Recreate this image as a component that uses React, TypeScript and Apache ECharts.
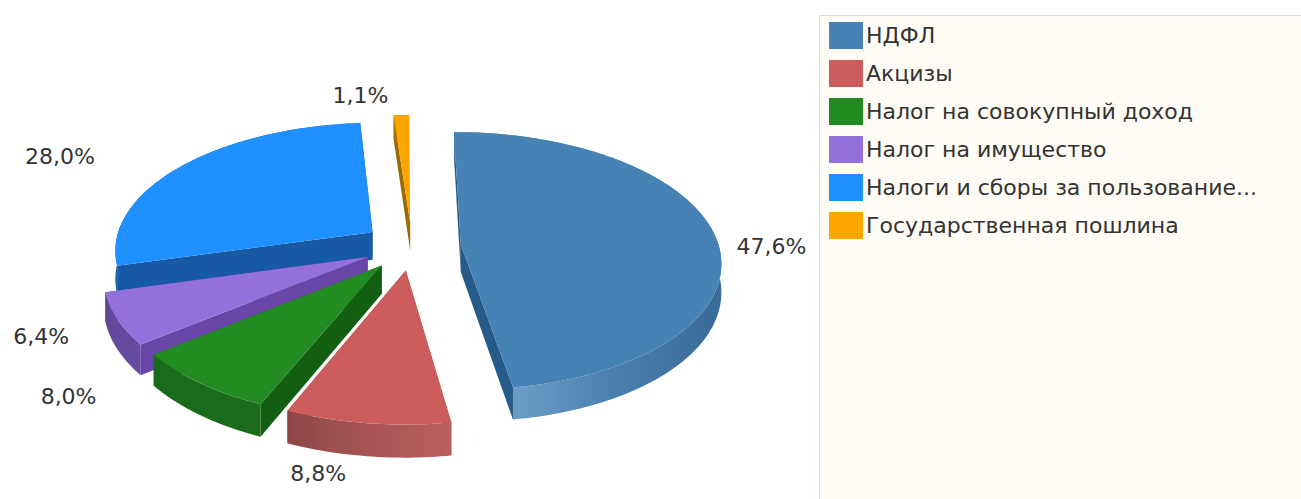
import React, { useEffect, useRef } from "react";
import * as echarts from "echarts";

const categories = ["НДФЛ", "Акцизы", "Налог на совокупный доход", "Налог на имущество", "Налоги и сборы за пользование...", "Государственная пошлина"];
const shares = [47.6, 8.8, 8.0, 6.4, 28.0, 1.1];
const faceColors = ["#4682B4", "#CD5C5C", "#228B22", "#9370DB", "#1E90FF", "#FFA500"];
const innerWallColors = ["#265a88", "#8f4646", "#125f12", "#6a45a8", "#1859a6", "#9a6a08"];
const outerWallStops = [
  ["#4f82b0", "#6a9bc6", "#4a7fae", "#3a6a96"],
  ["#8c4545", "#9c4f4f", "#ab5656", "#bb6060"],
  ["#1c6b1c", "#1c6b1c", "#1c6b1c", "#1c6b1c"],
  ["#5f4495", "#644a9c", "#644a9c", "#6a4aa5"],
  ["#175da8", "#175da8", "#175da8", "#175da8"],
  ["#a87408", "#a87408", "#a87408", "#a87408"],
];
const labelOffsets = [[57, 12], [-49, 50], [-131, 14], [-76, 18], [-122, -9], [-41, -20]];
const paintOrder = [6, 5, 4, 3, 2, 1];

const START_DEG = -0.3;
const CX = 412, CY = 246, RX = 258, RY = 127, PERSP = 0.13, EXPLODE = 0.19, WALL = 28;
const total = shares.reduce((a, b) => a + b, 0);
const FONT = "DejaVu Sans";

function project(u: number, v: number, h = 0): number[] {
  const d = 1 - PERSP * v;
  return [CX + (RX * u) / d, CY + (RY * v + h) / d];
}

function renderSlice(index: number) {
  return (_params: any, api: any) => {
    const value = api.value(0);
    let before = 0;
    for (let i = 0; i < index; i++) before += shares[i];
    const a0 = START_DEG + (before / total) * 360;
    const a1 = a0 + (value / total) * 360;
    const rad = (d: number) => (d * Math.PI) / 180;
    const mid = rad((a0 + a1) / 2);
    const ax = EXPLODE * Math.sin(mid);
    const ay = -EXPLODE * Math.cos(mid);
    const steps = Math.max(4, Math.ceil(a1 - a0));
    const top: number[][] = [];
    const bottom: number[][] = [];
    for (let s = 0; s <= steps; s++) {
      const t = rad(a0 + ((a1 - a0) * s) / steps);
      const u = ax + Math.sin(t);
      const v = ay - Math.cos(t);
      top.push(project(u, v));
      bottom.push(project(u, v, WALL));
    }
    const apex = project(ax, ay);
    const apexLow = project(ax, ay, WALL);
    const inner = innerWallColors[index];
    const stops = outerWallStops[index];
    const outerMid = project(ax + Math.sin(mid), ay - Math.cos(mid));
    const off = labelOffsets[index];
    return {
      type: "group",
      children: [
        { type: "polygon", shape: { points: [apex, top[0], bottom[0], apexLow] }, style: { fill: inner } },
        { type: "polygon", shape: { points: [apex, top[steps], bottom[steps], apexLow] }, style: { fill: inner } },
        {
          type: "polygon",
          shape: { points: [...top, ...bottom.slice().reverse()] },
          style: {
            fill: new echarts.graphic.LinearGradient(0, 0, 1, 0, [
              { offset: 0, color: stops[0] },
              { offset: 0.25, color: stops[1] },
              { offset: 0.6, color: stops[2] },
              { offset: 1, color: stops[3] },
            ]),
          },
        },
        { type: "polygon", shape: { points: [apex, ...top] }, style: { fill: faceColors[index] } },
        {
          type: "text",
          x: outerMid[0] + off[0],
          y: outerMid[1] + off[1],
          style: {
            text: value.toFixed(1).replace(".", ",") + "%",
            fill: "#333333",
            font: `22px "${FONT}"`,
            textAlign: "center",
            textVerticalAlign: "middle",
          },
        },
      ],
    };
  };
}

export default function App() {
  const ref = useRef<HTMLDivElement>(null);
  useEffect(() => {
    document.body.style.margin = "0";
    const chart = echarts.init(ref.current as HTMLDivElement, undefined, { renderer: "svg" });
    chart.setOption({
      animation: false,
      backgroundColor: "#ffffff",
      graphic: [
        {
          type: "rect",
          z: -1,
          shape: { x: 819.5, y: 15.5, width: 490, height: 500 },
          style: { fill: "#FFFCF6", stroke: "#dddddd", lineWidth: 1 },
        },
      ],
      legend: {
        data: categories,
        orient: "vertical",
        left: 829,
        top: 22,
        padding: 0,
        icon: "rect",
        itemWidth: 34,
        itemHeight: 27,
        itemGap: 11,
        selectedMode: false,
        textStyle: { fontFamily: FONT, fontSize: 22, color: "#333333", padding: [0, 0, 0, -2] },
      },
      series: categories.map((name, i) => ({
        type: "custom",
        name,
        coordinateSystem: "none",
        z: paintOrder[i],
        silent: true,
        itemStyle: { color: faceColors[i] },
        data: [[shares[i]]],
        renderItem: renderSlice(i),
      })),
    });
    return () => chart.dispose();
  }, []);
  return <div ref={ref} style={{ position: "absolute", left: 0, top: 0, width: 1301, height: 499 }} />;
}
